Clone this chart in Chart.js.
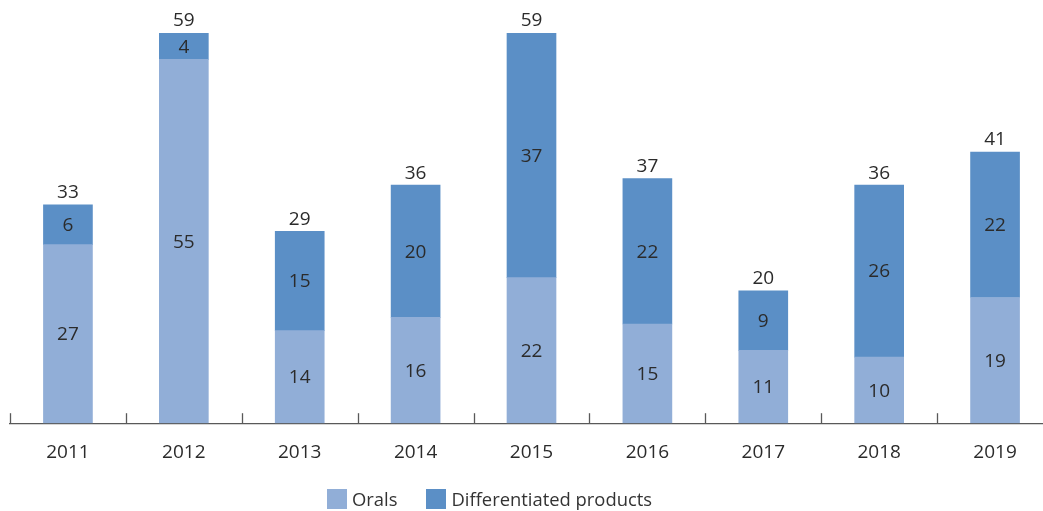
<!DOCTYPE html>
<html>
<head>
<meta charset="utf-8">
<script src="https://cdn.jsdelivr.net/npm/chart.js@4.4.1/dist/chart.umd.min.js"></script>
<style>
  html, body { margin: 0; padding: 0; background: #fff; overflow: hidden; }
  #wrap { position: relative; width: 1053px; height: 511px; }
  #legend { position: absolute; left: 327px; top: 489px; display: flex; align-items: center;
            font-family: "Open Sans", sans-serif; font-size: 18.4px; color: #333; line-height: 20px; }
  #legend .item { display: flex; align-items: center; margin-right: 29px; }
  #legend .box { width: 20px; height: 20px; margin-right: 5px; }
</style>
</head>
<body>
<div id="wrap">
  <canvas id="myChart" width="1053" height="511"></canvas>
  <div id="legend"></div>
</div>
<script>
const years = ["2011", "2012", "2013", "2014", "2015", "2016", "2017", "2018", "2019"];
const orals = [27, 55, 14, 16, 22, 15, 11, 10, 19];
const differentiated = [6, 4, 15, 20, 37, 22, 9, 26, 22];
const totals = [33, 59, 29, 36, 59, 37, 20, 36, 41];

const colorOrals = "#91aed7";
const colorDiff = "#5b8fc6";
const axisColor = "#595959";
const textColor = "#2b2b2b";
const fontFamily = "'Open Sans', sans-serif";

// Small upward tick marks between categories, sitting on the axis line
const boundaryTicks = {
    id: "boundaryTicks",
    afterDraw(chart) {
        const ctx = chart.ctx;
        const x = chart.scales.x;
        const step = x.getPixelForValue(1) - x.getPixelForValue(0);
        const y = chart.chartArea.bottom;
        ctx.save();
        ctx.strokeStyle = axisColor;
        ctx.lineWidth = 1.3;
        for (let i = 0; i <= years.length; i++) {
            const px = Math.round(x.getPixelForValue(0) - step / 2 + i * step) + 0.5;
            ctx.beginPath();
            ctx.moveTo(px, y);
            ctx.lineTo(px, y - 10);
            ctx.stroke();
        }
        ctx.restore();
    },
};

// Segment values in the middle of each block, totals above each bar
const valueLabels = {
    id: "valueLabels",
    afterDatasetsDraw(chart) {
        const ctx = chart.ctx;
        ctx.save();
        ctx.font = "19px " + fontFamily;
        ctx.fillStyle = textColor;
        ctx.textAlign = "center";
        ctx.textBaseline = "middle";
        chart.data.datasets.forEach((ds, di) => {
            chart.getDatasetMeta(di).data.forEach((bar, i) => {
                const v = ds.data[i];
                if (!v) return;
                ctx.fillText(String(v), bar.x, (bar.y + bar.base) / 2 + 1);
            });
        });
        const top = chart.getDatasetMeta(1).data;
        const y = chart.scales.y;
        top.forEach((bar, i) => {
            ctx.fillText(String(totals[i]), bar.x, y.getPixelForValue(totals[i]) - 12);
        });
        ctx.restore();
    },
};

const ctx = document.getElementById("myChart").getContext("2d");
const chart = new Chart(ctx, {
    type: "bar",
    data: {
        labels: years,
        datasets: [
            { label: "Orals", data: orals, backgroundColor: colorOrals },
            { label: "Differentiated products", data: differentiated, backgroundColor: colorDiff },
        ],
    },
    options: {
        responsive: false,
        animation: false,
        layout: { padding: { left: 10, right: 0, top: 33, bottom: 29 } },
        plugins: {
            legend: { display: false },
            tooltip: { enabled: false },
        },
        datasets: {
            bar: { barThickness: 49, borderWidth: 0 },
        },
        scales: {
            x: {
                stacked: true,
                grid: { display: false, drawTicks: false },
                border: { display: true, color: axisColor, width: 1.3 },
                ticks: { color: textColor, font: { family: fontFamily, size: 19 }, padding: 18 },
            },
            y: {
                stacked: true,
                display: false,
                min: 0,
                max: 59,
            },
        },
    },
    plugins: [boundaryTicks, valueLabels],
});

// Legend built from the datasets
const legend = document.getElementById("legend");
chart.data.datasets.forEach((ds) => {
    const item = document.createElement("div");
    item.className = "item";
    const box = document.createElement("span");
    box.className = "box";
    box.style.background = ds.backgroundColor;
    const label = document.createElement("span");
    label.textContent = ds.label;
    item.appendChild(box);
    item.appendChild(label);
    legend.appendChild(item);
});
</script>
</body>
</html>
